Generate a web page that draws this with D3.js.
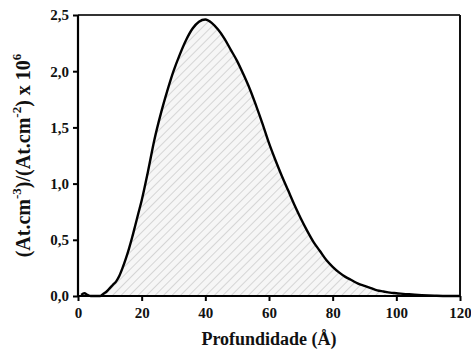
<!DOCTYPE html>
<html>
<head>
<meta charset="utf-8">
<script src="https://cdn.jsdelivr.net/npm/d3@7"></script>
<style>
  html, body { margin: 0; padding: 0; background: #fff; }
  svg { display: block; }
  text { font-family: "Liberation Serif", "Times New Roman", serif; font-weight: bold; fill: #111; }
</style>
</head>
<body>
<svg id="chart" width="471" height="351"></svg>
<script>
const depth = [1,2,3,4,5,6,7,8,9,10,11,12,13,14,15,16,17,18,19,20,22,24,26,28,30,32,34,36,38,40,42,44,46,48,50,52,54,56,58,60,62,64,66,68,70,72,74,76,78,80,82,84,86,88,90,92,94,96,98,100,104,108,112,116,120];
const conc  = [0.01,0.025,0.01,0.0,0.0,0.0,0.0,0.02,0.04,0.07,0.10,0.13,0.18,0.25,0.33,0.42,0.52,0.63,0.74,0.85,1.11,1.39,1.62,1.82,2.0,2.15,2.28,2.38,2.44,2.46,2.43,2.37,2.29,2.19,2.09,1.97,1.84,1.69,1.53,1.36,1.21,1.07,0.94,0.81,0.69,0.58,0.48,0.40,0.32,0.26,0.21,0.17,0.14,0.11,0.09,0.07,0.05,0.04,0.03,0.025,0.015,0.008,0.003,0.0,0.0];
const xTicks = [0,20,40,60,80,100,120];
const yTicks = [0,0.5,1.0,1.5,2.0,2.5];
const xTitle = "Profundidade (Å)";

const data = depth.map((d,i) => ({x: d, y: conc[i]}));
const svg = d3.select("#chart");
const m = {left: 78, right: 11, top: 15, bottom: 55};
const W = 471, H = 351;
const x = d3.scaleLinear().domain([0,120]).range([m.left, W - m.right]);
const y = d3.scaleLinear().domain([0,2.5]).range([H - m.bottom, m.top]);

const defs = svg.append("defs");
const pat = defs.append("pattern").attr("id","hatch").attr("patternUnits","userSpaceOnUse")
  .attr("width",6).attr("height",6).attr("patternTransform","rotate(45)");
pat.append("rect").attr("width",6).attr("height",6).attr("fill","#f6f6f6");
pat.append("line").attr("x1",0).attr("y1",0).attr("x2",0).attr("y2",6)
  .attr("stroke","#b4b4b4").attr("stroke-width",1);

const area = d3.area().x(d => x(d.x)).y0(y(0)).y1(d => y(d.y)).curve(d3.curveMonotoneX);
const line = d3.line().x(d => x(d.x)).y(d => y(d.y)).curve(d3.curveMonotoneX);

svg.append("path").datum(data).attr("d", area).attr("fill","url(#hatch)");
svg.append("path").datum(data).attr("d", line).attr("fill","none")
  .attr("stroke","#000").attr("stroke-width",2.4).attr("stroke-linejoin","round");

// frame top/right
svg.append("line").attr("x1",x(0)).attr("x2",x(120)).attr("y1",y(2.5)).attr("y2",y(2.5))
  .attr("stroke","#333").attr("stroke-width",2);
svg.append("line").attr("x1",x(120)).attr("x2",x(120)).attr("y1",y(2.5)).attr("y2",y(0))
  .attr("stroke","#111").attr("stroke-width",2);

const fmt = d => d3.format(".1f")(d).replace(".", ",");
const xAxis = svg.append("g").attr("transform",`translate(0,${y(0)})`)
  .call(d3.axisBottom(x).tickValues(xTicks).tickSize(5).tickPadding(6).tickFormat(d3.format("d")));
const yAxis = svg.append("g").attr("transform",`translate(${x(0)},0)`)
  .call(d3.axisLeft(y).tickValues(yTicks).tickSize(5).tickPadding(4).tickFormat(fmt));
[xAxis, yAxis].forEach(g => {
  g.select(".domain").attr("stroke","#000").attr("stroke-width",2.2);
  g.selectAll(".tick line").attr("stroke","#000").attr("stroke-width",2);
  g.selectAll(".tick text").style("font-family","Liberation Serif").style("font-weight","bold")
    .style("font-size","15px").attr("fill","#111");
});
xAxis.select(".domain").attr("d", `M${x(0)},0H${x(120)}`);
yAxis.select(".domain").attr("d", `M0,${y(0)}V${y(2.5)}`);

svg.append("text").attr("x", (x(0)+x(120))/2).attr("y", 345).attr("text-anchor","middle")
  .style("font-size","18px").text(xTitle);

const yl = svg.append("text").attr("transform",`translate(30,${(y(0)+y(2.5))/2}) rotate(-90)`)
  .attr("text-anchor","middle").style("font-size","20px");
yl.append("tspan").text("(At.cm");
yl.append("tspan").attr("dy",-9).style("font-size","13px").text("-3");
yl.append("tspan").attr("dy",9).text(")/(At.cm");
yl.append("tspan").attr("dy",-9).style("font-size","13px").text("-2");
yl.append("tspan").attr("dy",9).text(") x 10");
yl.append("tspan").attr("dy",-9).style("font-size","13px").text("6");
</script>
</body>
</html>
